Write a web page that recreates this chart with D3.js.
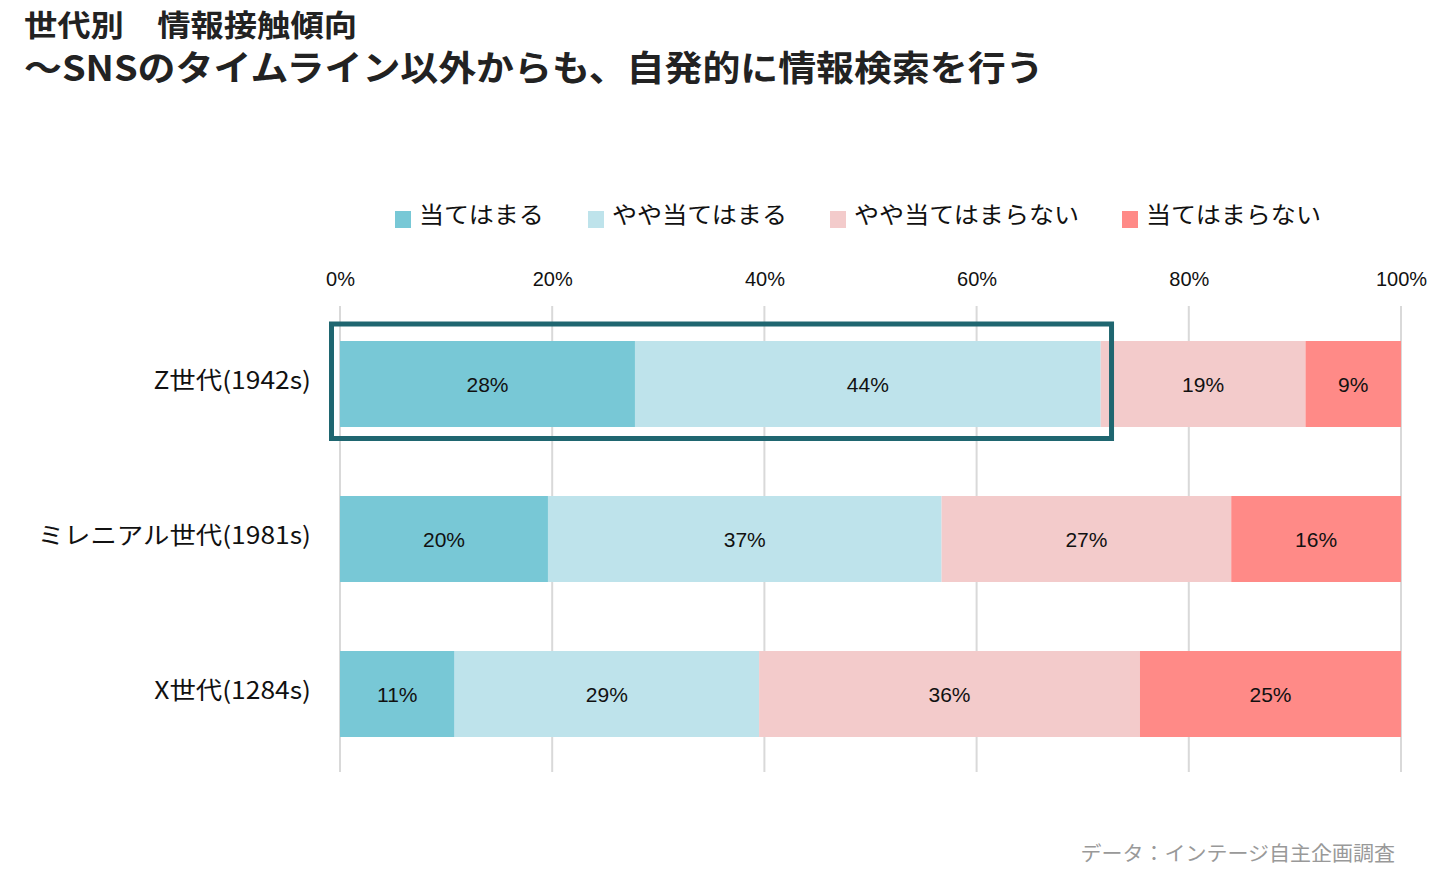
<!DOCTYPE html>
<html><head><meta charset="utf-8">
<script src="https://cdn.jsdelivr.net/npm/d3@7"></script>
<style>body{margin:0;background:#fff;} svg{display:block;}</style>
</head><body>
<svg id="chart" width="1453" height="882"></svg>
<script>
const categories = ["Z世代(1942s)", "ミレニアル世代(1981s)", "X世代(1284s)"];
const seriesNames = ["当てはまる", "やや当てはまる", "やや当てはまらない", "当てはまらない"];
const seriesColors = ["#78C8D6", "#BEE3EB", "#F3CBCB", "#FF8A87"];
const s1 = [27.8, 19.6, 10.8];
const s2 = [43.9, 37.1, 28.7];
const s3 = [19.3, 27.3, 35.9];
const s4 = [9.0, 16.0, 24.6];
const xTicks = [0, 20, 40, 60, 80, 100];
const highlightRange = [0, 73]; // highlight box over Z世代 first two series

const jp = "'Noto Sans CJK JP', sans-serif";
const lat = "'Liberation Sans', Arial, sans-serif";

// widen glyphs to mimic the wider reference face
function widen(sel, f) {
  sel.each(function() {
    const w = this.getComputedTextLength();
    d3.select(this).attr("textLength", w * f).attr("lengthAdjust", "spacingAndGlyphs");
  });
}

const svg = d3.select("#chart");
const x = d3.scaleLinear().domain([0, 100]).range([340, 1401]);
const y = d3.scaleBand().domain(categories).range([306.5, 771.5]).paddingInner(0.4452).paddingOuter(0.2226);

// title
svg.append("text").attr("x", 24).attr("y", 36).attr("font-family", jp).attr("font-weight", 700)
  .attr("font-size", 30).attr("fill", "#222").text("世代別　情報接触傾向").call(widen, 1.11);
svg.append("text").attr("x", 24).attr("y", 81).attr("font-family", jp).attr("font-weight", 700)
  .attr("font-size", 35).attr("fill", "#222").text("～SNSのタイムライン以外からも、自発的に情報検索を行う").call(widen, 1.083);

// grid
svg.append("g").selectAll("line").data(xTicks).join("line")
  .attr("x1", d => x(d)).attr("x2", d => x(d)).attr("y1", 306).attr("y2", 772)
  .attr("stroke", "#d9d9d9").attr("stroke-width", 2);

// axis top
const ax = svg.append("g").attr("transform", "translate(0,289)")
  .call(d3.axisTop(x).tickValues(xTicks).tickFormat(d => d + "%").tickSize(0));
ax.select(".domain").remove();
ax.selectAll("text").attr("font-family", lat).attr("font-size", 20).attr("fill", "#111");

// stacked data
const rows = categories.map((c, i) => ({cat: c, vals: [s1[i], s2[i], s3[i], s4[i]]}));
const segs = [];
rows.forEach(r => { let acc = 0; r.vals.forEach((v, k) => { segs.push({cat: r.cat, k, x0: acc, x1: acc + v, v}); acc += v; }); });

svg.append("g").selectAll("rect").data(segs).join("rect")
  .attr("x", d => x(d.x0)).attr("width", d => x(d.x1) - x(d.x0))
  .attr("y", d => y(d.cat)).attr("height", y.bandwidth())
  .attr("fill", d => seriesColors[d.k]);

svg.append("g").selectAll("text").data(segs).join("text")
  .attr("x", d => x((d.x0 + d.x1) / 2)).attr("y", d => y(d.cat) + y.bandwidth() / 2)
  .attr("dy", "0.36em").attr("text-anchor", "middle")
  .attr("font-family", lat).attr("font-size", 21).attr("fill", "#111")
  .text(d => Math.round(d.v) + "%");

// category labels
svg.append("g").selectAll("text").data(categories).join("text")
  .attr("x", 311).attr("y", d => y(d) + y.bandwidth() / 2 - 4).attr("dy", "0.36em")
  .attr("text-anchor", "end").attr("font-family", jp).attr("font-size", 24).attr("fill", "#111")
  .text(d => d).call(widen, 1.1);

// highlight box
svg.append("rect")
  .attr("x", x(highlightRange[0]) - 8.5).attr("y", y(categories[0]) - 17)
  .attr("width", x(highlightRange[1]) - x(highlightRange[0]) - 3 + 8.5)
  .attr("height", y.bandwidth() + 28.5)
  .attr("fill", "none").attr("stroke", "#1F6670").attr("stroke-width", 5);

// legend
const legX = [395, 588, 830, 1122];
const leg = svg.append("g").selectAll("g").data(seriesNames).join("g")
  .attr("transform", (d, i) => `translate(${legX[i]},0)`);
leg.append("rect").attr("x", 0).attr("y", 211).attr("width", 16).attr("height", 17)
  .attr("fill", (d, i) => seriesColors[i]);
leg.append("text").attr("x", 24).attr("y", 215).attr("dy", "0.36em")
  .attr("font-family", jp).attr("font-size", 23).attr("fill", "#111").text(d => d).call(widen, 1.09);

// source
svg.append("text").attr("x", 1395).attr("y", 861).attr("text-anchor", "end")
  .attr("font-family", jp).attr("font-size", 20).attr("fill", "#999")
  .text("データ：インテージ自主企画調査").call(widen, 1.05);
</script>
</body></html>
